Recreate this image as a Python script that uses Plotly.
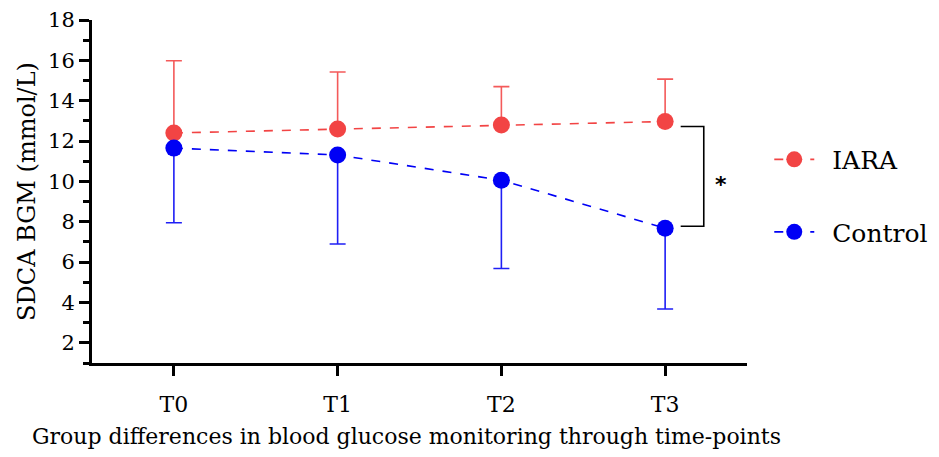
import plotly.graph_objects as go

timepoints = ["T0", "T1", "T2", "T3"]
iara_mean = [12.4, 12.6, 12.8, 12.97]
iara_sd = [3.58, 2.82, 1.9, 2.1]
control_mean = [11.65, 11.31, 10.06, 7.68]
control_sd = [3.7, 4.41, 4.38, 4.0]
y_ticks = [2, 4, 6, 8, 10, 12, 14, 16, 18]
legend_names = ["\u00a0\u2009IARA", "\u00a0\u2009Control"]
x_title = "Group differences in blood glucose monitoring through time-points"
y_title = "SDCA BGM (mmol/L)"

RED = "#F24444"
RED_ERR = "#F45A5A"
BLUE = "#0000F5"
BLUE_ERR = "#1F1FF5"
FONT = "DejaVu Serif"

fig = go.Figure()
fig.add_trace(go.Scatter(
    x=timepoints, y=iara_mean, name=legend_names[0], mode="lines+markers",
    legendgroup="a",
    line=dict(color=RED, width=1.6, dash="dash"),
    marker=dict(color=RED, size=17),
    error_y=dict(type="data", array=iara_sd, arrayminus=[0]*4, symmetric=False,
                 color=RED_ERR, thickness=1.6, width=8),
))
fig.add_trace(go.Scatter(
    x=timepoints, y=control_mean, name=legend_names[1], mode="lines+markers",
    legendgroup="b",
    line=dict(color=BLUE, width=1.6, dash="dash"),
    marker=dict(color=BLUE, size=17),
    error_y=dict(type="data", array=[0]*4, arrayminus=control_sd, symmetric=False,
                 color=BLUE_ERR, thickness=1.6, width=8),
))

# significance bracket at T3
x3 = 3
top = iara_mean[3] - 0.25
bot = control_mean[3] + 0.1
fig.add_shape(type="path", xref="x", yref="y",
              path=f"M {x3+0.095},{top} L {x3+0.236},{top} L {x3+0.236},{bot} L {x3+0.095},{bot}",
              line=dict(color="black", width=1.6))
fig.add_annotation(x=x3 + 0.34, y=(top + bot) / 2 - 0.4, text="<b>*</b>", showarrow=False,
                   font=dict(family="DejaVu Sans", size=22, color="black"), xref="x", yref="y")

# x-axis title (placed slightly left of plot centre as in the original)
fig.add_annotation(x=0.48, y=-0.215, xref="paper", yref="paper", text=x_title,
                   showarrow=False, xanchor="center", yanchor="middle",
                   font=dict(family=FONT, size=22, color="black"))

fig.update_layout(
    width=939, height=457,
    margin=dict(l=92, r=192, t=20, b=94, autoexpand=False),
    paper_bgcolor="white", plot_bgcolor="white",
    font=dict(family=FONT, size=20, color="black"),
    showlegend=True,
    legend=dict(x=1.034, y=0.66, xanchor="left", yanchor="top",
                traceorder="grouped", tracegroupgap=37,
                font=dict(family=FONT, size=25, color="black"),
                itemwidth=40),
    xaxis=dict(
        range=[-0.5, 3.5], showline=True, linecolor="black", linewidth=3,
        ticks="outside", ticklen=10, tickwidth=3, tickcolor="black",
        ticklabelstandoff=10, automargin=False,
        showgrid=False, zeroline=False,
        tickfont=dict(size=22),
    ),
    yaxis=dict(
        range=[1, 18], showline=True, linecolor="black", linewidth=3,
        tickvals=y_ticks, ticks="outside", ticklen=10, tickwidth=3, tickcolor="black",
        minor=dict(dtick=1, tick0=1, ticks="outside", ticklen=6, tickwidth=3, tickcolor="black", showgrid=False),
        showgrid=False, zeroline=False, automargin=False,
        title=dict(text=y_title, font=dict(size=24), standoff=6),
        tickfont=dict(size=21),
    ),
)

fig.write_html("out.html")
